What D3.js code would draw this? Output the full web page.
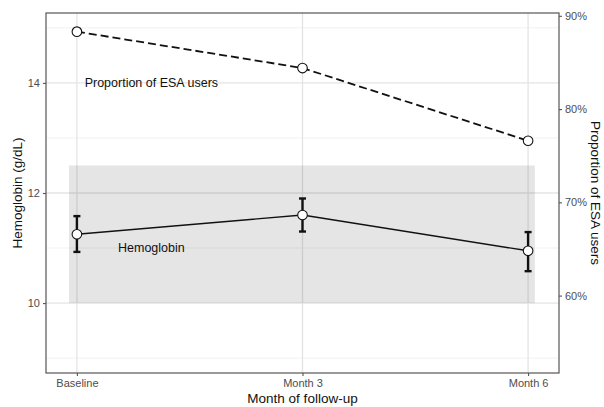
<!DOCTYPE html>
<html>
<head>
<meta charset="utf-8">
<script src="https://cdn.jsdelivr.net/npm/d3@7"></script>
<style>
  body { margin: 0; background: #fff; }
  text { font-family: "Liberation Sans", Arial, sans-serif; }
</style>
</head>
<body>
<div id="chart"></div>
<script>
// Data
const categories = ['Baseline', 'Month 3', 'Month 6'];
const hbMean = [11.25, 11.6, 10.95];
const hbLow = [10.93, 11.3, 10.58];
const hbHigh = [11.58, 11.9, 11.29];
const esaProp = [0.883, 0.844, 0.766];
const hbTicks = [10, 12, 14];
const hbMinor = [9, 11, 13, 15];
const esaTicks = [0.6, 0.7, 0.8, 0.9];
const targetBand = [10, 12.5];

const width = 604, height = 407;
const margin = { top: 13, right: 45, bottom: 34, left: 46 };
const pw = width - margin.left - margin.right;
const ph = height - margin.top - margin.bottom;

const svg = d3.select('#chart').append('svg')
    .attr('width', width)
    .attr('height', height);

const g = svg.append('g').attr('transform', `translate(${margin.left},${margin.top})`);

// x: category index 1..3 with ggplot-like expansion
const x = d3.scaleLinear().domain([0.863, 3.137]).range([0, pw]);
const yHb = d3.scaleLinear().domain([8.73, 15.27]).range([ph, 0]);
const yEsa = d3.scaleLinear().domain([0.517, 0.903]).range([ph, 0]);
const xi = i => x(i + 1);

// grid
const grid = g.append('g');
grid.selectAll('.minor').data(hbMinor).join('line')
    .attr('x1', 0).attr('x2', pw)
    .attr('y1', d => yHb(d)).attr('y2', d => yHb(d))
    .attr('stroke', '#efefef').attr('stroke-width', 0.9);
grid.selectAll('.major').data(hbTicks).join('line')
    .attr('x1', 0).attr('x2', pw)
    .attr('y1', d => yHb(d)).attr('y2', d => yHb(d))
    .attr('stroke', '#e4e4e4').attr('stroke-width', 1.3);
grid.selectAll('.vx').data(categories).join('line')
    .attr('x1', (d, i) => xi(i)).attr('x2', (d, i) => xi(i))
    .attr('y1', 0).attr('y2', ph)
    .attr('stroke', '#e4e4e4').attr('stroke-width', 1.3);

// reference band
g.append('rect')
    .attr('x', x(0.965)).attr('width', x(3.03) - x(0.965))
    .attr('y', yHb(targetBand[1])).attr('height', yHb(targetBand[0]) - yHb(targetBand[1]))
    .attr('fill', '#000').attr('fill-opacity', 0.1);

// ESA line (dashed)
g.append('path')
    .datum(esaProp)
    .attr('fill', 'none')
    .attr('stroke', '#111')
    .attr('stroke-width', 1.8)
    .attr('stroke-dasharray', '8,4')
    .attr('d', d3.line().x((d, i) => xi(i)).y(d => yEsa(d)));

// Hemoglobin line
g.append('path')
    .datum(hbMean)
    .attr('fill', 'none')
    .attr('stroke', '#111')
    .attr('stroke-width', 1.4)
    .attr('d', d3.line().x((d, i) => xi(i)).y(d => yHb(d)));

// error bars
const eb = g.append('g').attr('stroke', '#111').attr('stroke-width', 2.4);
categories.forEach((c, i) => {
    const cx = xi(i);
    eb.append('line').attr('x1', cx).attr('x2', cx).attr('y1', yHb(hbLow[i])).attr('y2', yHb(hbHigh[i]));
    eb.append('line').attr('x1', cx - 3.5).attr('x2', cx + 3.5).attr('y1', yHb(hbLow[i])).attr('y2', yHb(hbLow[i]));
    eb.append('line').attr('x1', cx - 3.5).attr('x2', cx + 3.5).attr('y1', yHb(hbHigh[i])).attr('y2', yHb(hbHigh[i]));
});

// points
g.selectAll('.pe').data(esaProp).join('circle')
    .attr('cx', (d, i) => xi(i)).attr('cy', d => yEsa(d)).attr('r', 4.8)
    .attr('fill', '#fff').attr('stroke', '#111').attr('stroke-width', 1.1);
g.selectAll('.ph').data(hbMean).join('circle')
    .attr('cx', (d, i) => xi(i)).attr('cy', d => yHb(d)).attr('r', 4.8)
    .attr('fill', '#fff').attr('stroke', '#111').attr('stroke-width', 1.1);

// annotations
g.append('text').attr('x', x(1.33)).attr('y', yHb(14)).attr('dy', '0.35em')
    .attr('text-anchor', 'middle').attr('font-size', 12.5).attr('fill', '#111')
    .text('Proportion of ESA users');
g.append('text').attr('x', x(1.33)).attr('y', yHb(11)).attr('dy', '0.35em')
    .attr('text-anchor', 'middle').attr('font-size', 12.5).attr('fill', '#111')
    .text('Hemoglobin');

// panel border
g.append('rect').attr('width', pw).attr('height', ph)
    .attr('fill', 'none').attr('stroke', '#555').attr('stroke-width', 1.2);

// axes
function styleAxis(sel) {
    sel.select('.domain').remove();
    sel.selectAll('.tick line').attr('stroke', '#555').attr('stroke-width', 1.1);
    sel.selectAll('.tick text').attr('fill', '#4d4d4d').attr('font-size', 11)
        .style('font-family', '"Liberation Sans", Arial, sans-serif');
}

g.append('g')
    .call(d3.axisLeft(yHb).tickValues(hbTicks).tickSize(3).tickPadding(3).tickFormat(d3.format('d')))
    .call(styleAxis);

g.append('g').attr('transform', `translate(${pw},0)`)
    .call(d3.axisRight(yEsa).tickValues(esaTicks).tickSize(3).tickPadding(3).tickFormat(d3.format('.0%')))
    .call(styleAxis);

g.append('g').attr('transform', `translate(0,${ph})`)
    .call(d3.axisBottom(x).tickValues([1, 2, 3]).tickSize(3).tickPadding(3).tickFormat(d => categories[d - 1]))
    .call(styleAxis);

// axis titles
svg.append('text')
    .attr('transform', `translate(17,${margin.top + ph / 2}) rotate(-90)`)
    .attr('text-anchor', 'middle').attr('dy', '0.35em')
    .attr('font-size', 13.5).attr('fill', '#111')
    .text('Hemoglobin (g/dL)');
svg.append('text')
    .attr('transform', `translate(596,${margin.top + ph / 2}) rotate(90)`)
    .attr('text-anchor', 'middle').attr('dy', '0.35em')
    .attr('font-size', 13.5).attr('fill', '#111')
    .text('Proportion of ESA users');
svg.append('text')
    .attr('x', margin.left + pw / 2).attr('y', 403)
    .attr('text-anchor', 'middle')
    .attr('font-size', 13.5).attr('fill', '#111')
    .text('Month of follow-up');
</script>
</body>
</html>
